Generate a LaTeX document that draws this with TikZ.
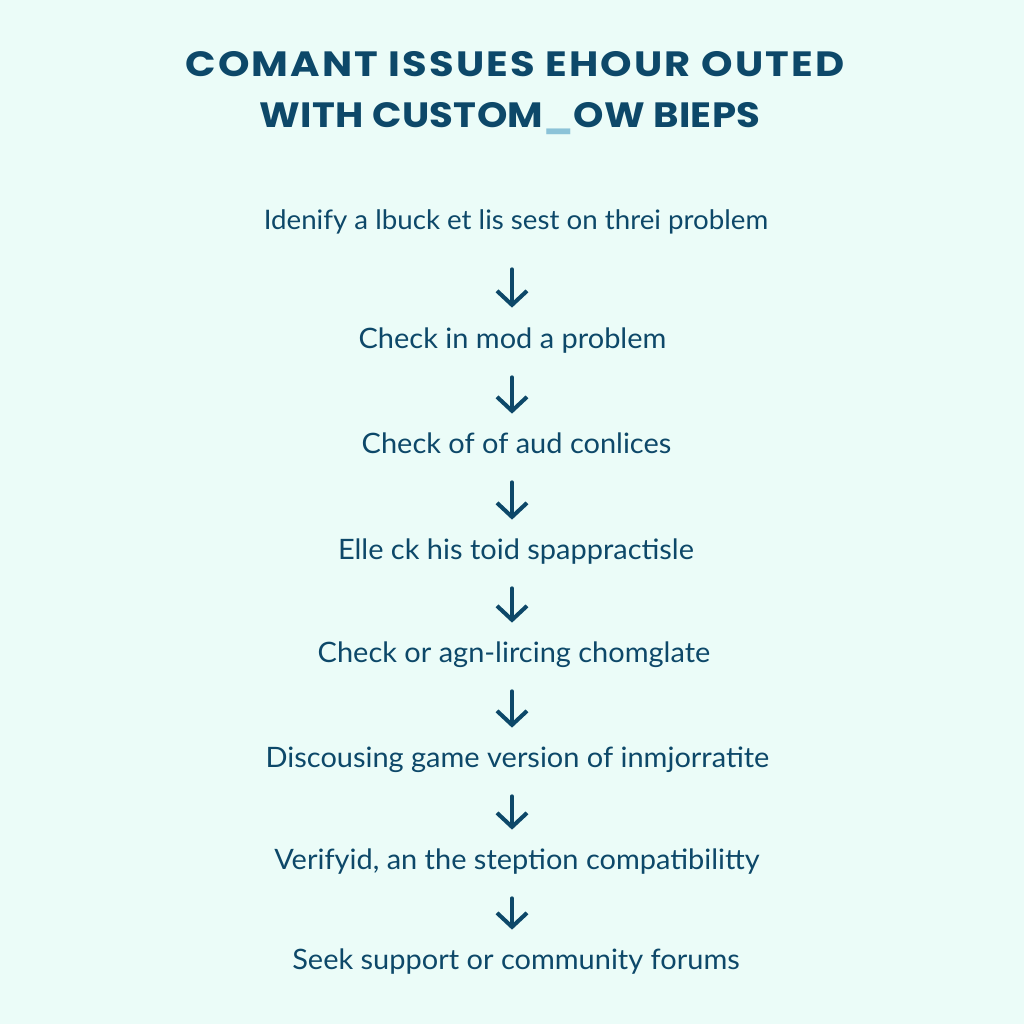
\documentclass[tikz,border=0pt]{standalone}
\usepackage{fontspec}
\setmainfont{Lato}[FakeStretch=1.03]
\newfontfamily\headfont{Poppins}[FakeStretch=1.14, LetterSpace=6]
\newfontfamily\headfontnarrow{Poppins}[FakeStretch=1.1, LetterSpace=1]
\usetikzlibrary{arrows.meta,positioning}
\definecolor{deepteal}{HTML}{0D4869}
\definecolor{mintbg}{HTML}{EBFCF8}
\definecolor{paleblue}{HTML}{8CC3D8}

\tikzset{
  headline/.style={text=deepteal, font=\headfont\bfseries\fontsize{20}{24}\selectfont,
                   inner sep=0pt, anchor=base},
  steptext/.style={text=deepteal, font=\fontsize{16}{19}\selectfont,
                   inner sep=0pt, text height=0.4cm, text depth=0.2cm, anchor=base},
  flowarrow/.style={draw=deepteal, line width=2.3pt, line cap=round,
                    -{Straight Barb[length=2.8mm,width=6mm]},
                    shorten <=0.36cm, shorten >=0.4cm}
}

\begin{document}
\begin{tikzpicture}
    \fill[mintbg] (0,0) rectangle (20.48,20.48);

    % title
    \node[headline] (head1) at (10.30,18.94) {COMANT ISSUES EHOUR OUTED};
    \node[headline, font=\headfontnarrow\bfseries\fontsize{20}{24}\selectfont] (head2)
        at (10.20,17.92) {WITH CUSTOM{\color{paleblue}\_}OW BIEPS};

    % steps
    \node[steptext, font=\fontsize{15.3}{19}\selectfont] (s1) at (10.32,15.88) {Idenify a lbuck et lis sest on threi problem};
    \node[steptext] (s2) at (10.25,13.50) {Check in mod a problem};
    \node[steptext] (s3) at (10.33,11.40) {Check of of aud conlices};
    \node[steptext] (s4) at (10.32,9.28) {Elle ck his toid spappractisle};
    \node[steptext] (s5) at (10.28,7.22) {Check or agn-lircing chomglate};
    \node[steptext] (s6) at (10.35,5.12) {Discousing game version of inmjorratite};
    \node[steptext] (s7) at (10.34,3.08) {Verifyid, an the steption compatibilitty};
    \node[steptext] (s8) at (10.32,1.08) {Seek support or community forums};

    % arrows
    \draw[flowarrow, shorten <=0.58cm, shorten >=0.42cm] (s1.south -| 10.24,0) -- (s2.north -| 10.24,0);
    \foreach \a/\b in {s2/s3, s3/s4, s4/s5, s5/s6, s6/s7, s7/s8}
        \draw[flowarrow] (\a.south -| 10.24,0) -- (\b.north -| 10.24,0);
\end{tikzpicture}
\end{document}
